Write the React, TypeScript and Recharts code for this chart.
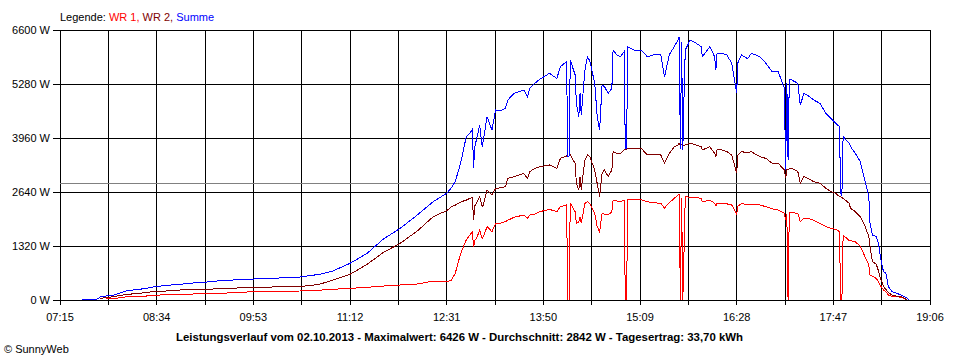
import React from 'react';
import { LineChart, Line, XAxis, YAxis, CartesianGrid, ReferenceLine } from 'recharts';

const times = [
  '07:33','07:40','07:46','07:48','07:53','07:59','08:04','08:10','08:15','08:20',
  '08:26','08:31','08:37','08:42','08:53','09:04','09:15','09:26','09:37','09:48',
  '09:59','10:09','10:20','10:31','10:47','10:58','11:12','11:26','11:39','11:53',
  '12:07','12:20','12:31','12:35','12:38','12:41','12:43','12:47','12:50','12:52',
  '12:53','12:54','12:56','12:58','13:00','13:01','13:04','13:08','13:11','13:15',
  '13:19','13:21','13:26','13:34','13:37','13:39','13:43','13:47','13:55','14:01',
  '14:04','14:09','14:10','14:11','14:12','14:16','14:17','14:19','14:20','14:21',
  '14:24','14:26','14:28','14:32','14:34','14:36','14:38','14:40','14:43','14:46',
  '14:47','14:50','14:53','14:56','14:57','14:58','14:59','15:04','15:10','15:15',
  '15:20','15:26','15:29','15:33','15:37','15:40','15:41','15:42','15:43','15:44',
  '15:45','15:46','15:50','15:55','15:59','16:00','16:06','16:10','16:11','16:12',
  '16:16','16:20','16:24','16:28','16:29','16:32','16:37','16:40','16:47','16:52',
  '16:57','17:02','17:07','17:08','17:09','17:10','17:11','17:13','17:18','17:20',
  '17:23','17:26','17:31','17:36','17:41','17:45','17:49','17:52','17:53','17:54',
  '17:55','18:00','18:01','18:05','18:09','18:13','18:16','18:17','18:19','18:22',
  '18:24','18:25','18:27','18:28','18:30','18:32','18:35','18:39','18:44','18:47',
  '18:49',
];

const wr1 = [
  null,null,null,null,25,30,57,81,85,90,
  98,110,122,128,138,147,155,163,180,196,
  204,212,216,220,240,261,285,310,340,367,
  391,464,448,489,652,978,1182,1467,1589,1670,
  1304,1450,1550,1711,1500,1548,1793,1670,1874,1880,
  1915,1950,2021,2078,2000,2078,2100,2159,2216,2159,
  2281,2322,0,0,2363,2159,1874,1900,2037,1880,
  2363,2400,2363,2118,1793,1670,2118,2100,2078,2159,
  2428,2420,2410,2440,0,0,2461,2450,2450,2400,
  2380,2363,2250,2380,2485,2567,2567,0,2500,0,
  1222,2530,2509,2509,2480,2400,2444,2363,2300,2363,
  2370,2350,2322,2100,2300,2350,2340,2345,2322,2281,
  2230,2200,2118,1955,2100,0,2135,2135,2118,1915,
  1996,1996,1950,1874,1793,1750,1727,1670,0,0,
  1589,1451,1451,1420,1320,1050,856,611,580,530,
  450,367,290,244,200,122,90,81,57,0,
  null,
];

const wr2 = [
  null,null,null,40,60,80,110,139,150,163,
  185,204,212,220,244,253,261,277,290,302,
  310,318,322,326,383,489,628,872,1157,1385,
  1687,2037,2184,2281,2320,2370,2403,2440,2485,2500,
  1955,2300,2400,2526,2280,2322,2689,2567,2730,2740,
  2770,2974,3015,3096,2974,3137,3218,3259,3300,3218,
  3463,3520,3504,3520,3545,3341,2852,2689,3015,2700,
  3422,3545,3500,3178,2852,2526,3096,3178,3015,3178,
  3626,3580,3585,3667,3667,3680,3707,3707,3707,3545,
  3545,3545,3341,3585,3748,3789,3830,3789,3789,3780,
  3780,3789,3830,3789,3748,3667,3748,3585,3500,3667,
  3667,3626,3545,3100,3545,3626,3600,3626,3504,3460,
  3341,3341,3178,2974,3178,3178,3218,3218,3137,2852,
  3015,2974,2893,2852,2730,2648,2607,2526,2526,2500,
  2485,2363,2241,2159,2037,1800,1548,1304,937,880,
  700,570,420,326,260,180,122,90,70,0,
  null,
];

const summe = [
  0,15,25,80,100,122,170,228,245,261,
  290,318,340,358,383,416,440,473,489,505,
  521,530,546,560,628,709,896,1141,1483,1752,
  2078,2403,2607,2750,2893,3200,3422,3992,4074,4170,
  3227,3750,4000,4278,3750,3911,4481,4156,4644,4620,
  4685,4889,5052,5133,4970,5174,5296,5393,5541,5418,
  5704,5827,3504,3520,5867,5500,4800,4481,5052,4522,
  5622,5948,5845,5296,4500,4156,5250,5215,5052,5174,
  6111,5989,5948,6070,3707,3707,6192,6111,6111,5948,
  5989,6000,5450,6000,6192,6356,6426,3700,6300,3667,
  5000,6111,6356,6274,6192,5948,6192,5948,5622,6029,
  6029,5989,5785,5052,5800,5989,5900,6029,5948,5785,
  5581,5581,5174,3178,5296,3422,5378,5378,5296,4767,
  5052,5000,4889,4807,4563,4441,4318,4237,2607,2560,
  3992,3830,3750,3585,3381,2893,2526,1875,1589,1550,
  1385,1141,815,700,652,326,204,163,98,50,
  0,
];

const yTicks = [0, 1320, 2640, 3960, 5280, 6600];
const xTickLabels = ['07:15','08:34','09:53','11:12','12:31','13:50','15:09','16:28','17:47','19:06'];
const average = 2842;
const title = 'Leistungsverlauf vom 02.10.2013 - Maximalwert: 6426 W - Durchschnitt: 2842 W - Tagesertrag: 33,70 kWh';

const toMin = (s: string) => {
  const [h, m] = s.split(':').map(Number);
  return h * 60 + m;
};
const pad = (n: number) => (n < 10 ? '0' + n : '' + n);

const data = times.map((t, i) => ({
  t: toMin(t),
  wr1: wr1[i],
  wr2: wr2[i],
  summe: summe[i],
}));

const labeled = xTickLabels.map(toMin);
const xTicks: number[] = [];
labeled.forEach((v, i) => {
  xTicks.push(v);
  if (i < labeled.length - 1) xTicks.push((v + labeled[i + 1]) / 2);
});
const labeledSet = new Set(labeled);
const fmtX = (v: number) => (labeledSet.has(v) ? pad(Math.floor(v / 60)) + ':' + pad(v % 60) : '');

const FONT = '"Liberation Sans", Arial, sans-serif';

export default function App() {
  return (
    <div style={{ position: 'relative', width: 960, height: 360, background: '#fff', fontFamily: FONT }}>
      <style>{`body{margin:0;background:#fff} .crisp path, .crisp line{shape-rendering:crispEdges}`}</style>
      <LineChart
        width={960}
        height={360}
        data={data}
        margin={{ top: 30, right: 30, bottom: 30, left: 0 }}
        className="crisp"
      >
        <CartesianGrid stroke="#000" strokeWidth={1} />
        <XAxis
          dataKey="t"
          type="number"
          domain={[labeled[0], labeled[labeled.length - 1]]}
          ticks={xTicks}
          interval={0}
          tickFormatter={fmtX}
          height={30}
          tickSize={5}
          tickMargin={8}
          axisLine={{ stroke: '#000' }}
          tickLine={{ stroke: '#000' }}
          tick={{ fontSize: 11, fill: '#000', fontFamily: FONT }}
          allowDataOverflow
        />
        <YAxis
          type="number"
          domain={[0, 6600]}
          ticks={yTicks}
          interval={0}
          width={60}
          tickSize={7}
          tickMargin={3}
          axisLine={false}
          tickLine={{ stroke: '#000' }}
          tickFormatter={(v: number) => `${v} W`}
          tick={{ fontSize: 11, fill: '#000', fontFamily: FONT }}
        />
        <ReferenceLine y={average} stroke="#808080" strokeWidth={1} ifOverflow="extendDomain" />
        <Line type="linear" dataKey="wr1" stroke="#ff0000" strokeWidth={1} dot={false} isAnimationActive={false} />
        <Line type="linear" dataKey="wr2" stroke="#800000" strokeWidth={1} dot={false} isAnimationActive={false} />
        <Line type="linear" dataKey="summe" stroke="#0000ff" strokeWidth={1} dot={false} isAnimationActive={false} />
      </LineChart>
      <svg width={960} height={360} style={{ position: 'absolute', left: 0, top: 0, pointerEvents: 'none' }}>
        <text x={60} y={21} fontSize={11} fontFamily={FONT}>
          <tspan fill="#000">Legende: </tspan>
          <tspan fill="#ff0000">WR 1, </tspan>
          <tspan fill="#800000">WR 2, </tspan>
          <tspan fill="#0000ff">Summe</tspan>
        </text>
        <text x={176} y={341} fontSize={11} fontWeight="bold" fontFamily={FONT} textLength={567} lengthAdjust="spacingAndGlyphs">
          {title}
        </text>
        <text x={4} y={353} fontSize={11} fontFamily={FONT}>© SunnyWeb</text>
      </svg>
    </div>
  );
}
